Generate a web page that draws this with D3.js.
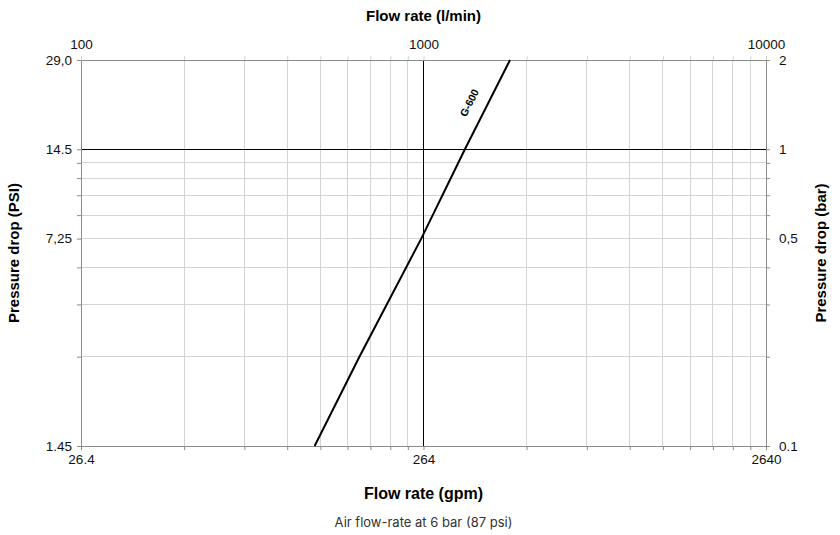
<!DOCTYPE html>
<html><head><meta charset="utf-8">
<script src="https://cdn.jsdelivr.net/npm/d3@7"></script>
<style>body{margin:0;background:#fff}svg{display:block}</style>
</head><body><svg id="c" width="840" height="535"></svg>
<script>
// ---- data ----
const flowMajorTicks = [100, 1000, 10000];           // l/min
const flowMajorLabels = ["100", "1000", "10000"];
const gpmLabels = ["26.4", "264", "2640"];
const flowMinorGrid = [200,300,400,500,600,700,800,900,2000,3000,4000,5000,6000,7000,8000,9000];
const barTicks = [0.1, 0.5, 1, 2];
const barLabels = ["0.1", "0,5", "1", "2"];
const psiLabels = ["1.45", "7,25", "14.5", "29,0"];
const barGrid = [0.2,0.3,0.4,0.5,0.6,0.7,0.8,0.9];
const g600Flow = [481, 650, 985, 1321, 1789];
const g600Bar  = [0.1, 0.2, 0.5, 1, 2];
const seriesName = "G-600";

// ---- layout ----
const L = 81, R = 766, T = 60, B = 446;
const svg = d3.select("#c");
const x = d3.scaleLog().domain([100, 10000]).range([L, R]);
const y = d3.scaleLog().domain([0.1, 2]).range([B, T]);
const font = "'Liberation Sans', Arial, sans-serif";
const gridCol = "#d4d4d4", axisCol = "#8a8a8a";

// grid
svg.append("g").selectAll("line").data(flowMinorGrid).join("line")
  .attr("x1", d => x(d)).attr("x2", d => x(d)).attr("y1", T).attr("y2", B)
  .attr("stroke", gridCol).attr("stroke-width", 1).attr("shape-rendering","crispEdges");
svg.append("g").selectAll("line").data(barGrid).join("line")
  .attr("y1", d => y(d)).attr("y2", d => y(d)).attr("x1", L).attr("x2", R)
  .attr("stroke", gridCol).attr("stroke-width", 1).attr("shape-rendering","crispEdges");
// black reference lines
svg.append("line").attr("x1", x(1000)).attr("x2", x(1000)).attr("y1", T).attr("y2", B)
  .attr("stroke", "#000").attr("shape-rendering","crispEdges");
svg.append("line").attr("x1", L).attr("x2", R).attr("y1", y(1)).attr("y2", y(1))
  .attr("stroke", "#000").attr("shape-rendering","crispEdges");

// axes
const allX = flowMajorTicks.concat(flowMinorGrid);
const allY = barTicks.concat(barGrid.filter(d => !barTicks.includes(d)));
function styleAxis(g){
  g.select(".domain").attr("stroke", axisCol);
  g.selectAll(".tick line").attr("stroke", axisCol);
  g.selectAll("text").attr("font-family", font).attr("font-size", 13.5).attr("fill", "#111");
}
const fmtTop = d => { const i = flowMajorTicks.indexOf(d); return i >= 0 ? flowMajorLabels[i] : ""; };
const fmtBot = d => { const i = flowMajorTicks.indexOf(d); return i >= 0 ? gpmLabels[i] : ""; };
const fmtL = d => { const i = barTicks.indexOf(d); return i >= 0 ? psiLabels[i] : ""; };
const fmtR = d => { const i = barTicks.indexOf(d); return i >= 0 ? barLabels[i] : ""; };

svg.append("g").attr("transform", `translate(0,${T})`)
  .call(d3.axisTop(x).tickValues(allX).tickFormat(fmtTop).tickSize(4).tickSizeOuter(0).tickPadding(7))
  .call(styleAxis).call(g => g.selectAll(".tick line").attr("stroke", gridCol));
svg.append("g").attr("transform", `translate(0,${B})`)
  .call(d3.axisBottom(x).tickValues(allX).tickFormat(fmtBot).tickSize(4).tickSizeOuter(0).tickPadding(4))
  .call(styleAxis);
svg.append("g").attr("transform", `translate(${L},0)`)
  .call(d3.axisLeft(y).tickValues(allY).tickFormat(fmtL).tickSize(4).tickSizeOuter(0).tickPadding(5))
  .call(styleAxis);
svg.append("g").attr("transform", `translate(${R},0)`)
  .call(d3.axisRight(y).tickValues(allY).tickFormat(fmtR).tickSize(4).tickSizeOuter(0).tickPadding(9))
  .call(styleAxis);

// series line
const pts = g600Flow.map((f, i) => [f, g600Bar[i]]);
svg.append("path").datum(pts)
  .attr("d", d3.line().x(d => x(d[0])).y(d => y(d[1])))
  .attr("fill", "none").attr("stroke", "#000").attr("stroke-width", 2);
// series label
const lx = x(1368), ly = y(1.43);
svg.append("text").attr("x", lx).attr("y", ly)
  .attr("transform", `rotate(-63,${lx},${ly})`)
  .attr("text-anchor", "middle").attr("dominant-baseline", "middle")
  .attr("font-family", font).attr("font-weight", "bold").attr("font-size", 10.5)
  .text(seriesName);

// titles
svg.append("text").attr("x", (L + R) / 2).attr("y", 21).attr("text-anchor", "middle")
  .attr("font-family", font).attr("font-weight", "bold").attr("font-size", 15).text("Flow rate (l/min)");
svg.append("text").attr("x", (L + R) / 2).attr("y", 499).attr("text-anchor", "middle")
  .attr("font-family", font).attr("font-weight", "bold").attr("font-size", 16).text("Flow rate (gpm)");
svg.append("text").attr("x", (L + R) / 2).attr("y", 527).attr("text-anchor", "middle")
  .attr("font-family", "Inter, 'Noto Sans', sans-serif").attr("font-size", 13).attr("fill", "#333")
  .text("Air flow-rate at 6 bar (87 psi)");
svg.append("text").attr("transform", `translate(19,${(T + B) / 2}) rotate(-90)`).attr("text-anchor", "middle")
  .attr("font-family", font).attr("font-weight", "bold").attr("font-size", 15).text("Pressure drop (PSI)");
svg.append("text").attr("transform", `translate(826,${(T + B) / 2}) rotate(-90)`).attr("text-anchor", "middle")
  .attr("font-family", font).attr("font-weight", "bold").attr("font-size", 15).text("Pressure drop (bar)");
</script></body></html>
